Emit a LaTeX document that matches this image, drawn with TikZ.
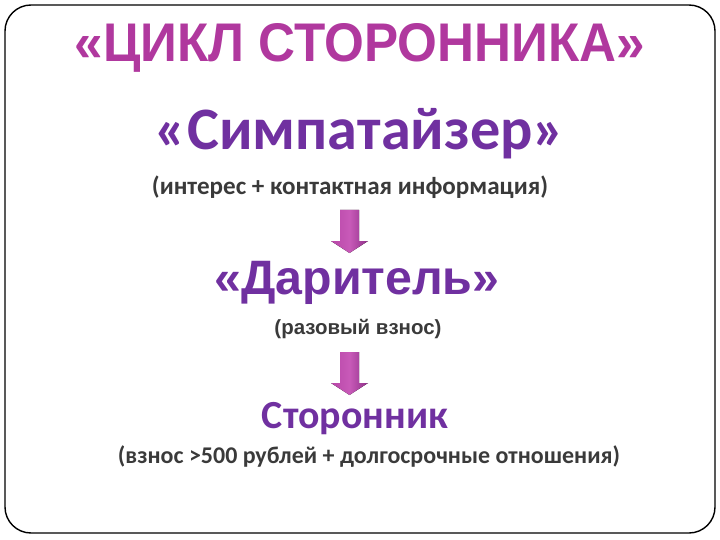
\documentclass[tikz,border=0pt]{standalone}
\usepackage{fontspec}
\setmainfont{Carlito}
\newfontfamily\titlefont{Liberation Sans}
\newfontfamily\wfont{Liberation Sans}
\usepackage{graphicx}
\definecolor{titlemag}{HTML}{B0389E}
\definecolor{purp}{HTML}{7030A0}
\definecolor{subgray}{HTML}{3A3A3A}
\definecolor{arrL}{HTML}{B846A8}
\definecolor{arrM}{HTML}{C85AB8}
\definecolor{arrR}{HTML}{8E2F88}
\tikzset{
  txt/.style={inner sep=0pt, anchor=center},
  downarrow/.style={left color=arrL, right color=arrR, middle color=arrM, draw=none}
}
\begin{document}
\begin{tikzpicture}[x=1pt,y=-1pt]
\useasboundingbox (0,0) rectangle (720,540);
\draw[line width=1.4pt, rounded corners=26pt] (5,5) rectangle (715,533);
\node[txt, text=titlemag, anchor=base] (title) at (360,62) {\resizebox{570pt}{38pt}{\titlefont\bfseries «ЦИКЛ СТОРОННИКА»}};
\node[txt, text=purp, anchor=base] (simp) at (360,150) {\resizebox{410pt}{!}{\bfseries «Симпатайзер»}};
\node[txt, text=subgray, anchor=base] (sub1) at (350,194) {\resizebox{396pt}{!}{\bfseries (интерес + контактная информация)}};
\node[txt, text=purp, anchor=base] (dar) at (357,294) {\resizebox{285pt}{!}{\wfont\bfseries «Даритель»}};
\node[txt, text=subgray, anchor=base] (sub2) at (358,334) {\resizebox{167pt}{!}{\wfont\bfseries (разовый взнос)}};
\node[txt, text=purp, anchor=base] (stor) at (355,428) {\resizebox{186pt}{!}{\bfseries Сторонник}};
\node[txt, text=subgray, anchor=base] (sub3) at (369,463) {\resizebox{502pt}{!}{\bfseries (взнос >500 рублей + долгосрочные отношения)}};
% arrows
\coordinate (a1) at (349.5,210);
\coordinate (a2) at (349.5,352);
\foreach \c/\h in {a1/31,a2/31}{
  \fill[downarrow] ([xshift=-9.5pt]\c) -- ([xshift=9.5pt]\c) -- ([xshift=9.5pt,yshift=-\h pt]\c) -- ([xshift=18.5pt,yshift=-\h pt]\c) -- ([yshift=-\h pt-12pt]\c) -- ([xshift=-18.5pt,yshift=-\h pt]\c) -- ([xshift=-9.5pt,yshift=-\h pt]\c) -- cycle;
}
\end{tikzpicture}
\end{document}
